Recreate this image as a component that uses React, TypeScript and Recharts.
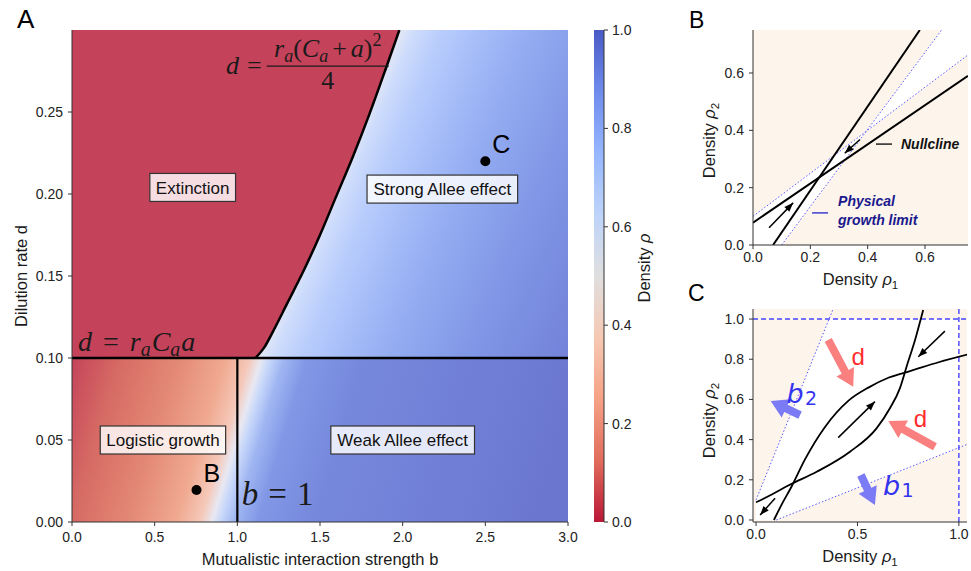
import React from "react";
import { ComposedChart, Area, Line, Scatter, XAxis, YAxis, CartesianGrid, Label } from "recharts";

const SANS = "'Liberation Sans', Arial, Helvetica, sans-serif";
const SERIF = "'Liberation Serif', 'Times New Roman', serif";
const INK = "#1a1a1a";
const AX = "#333";

// ---------- panel A: phase diagram ----------
const bTicks = [0, 0.5, 1, 1.5, 2, 2.5, 3];
const dTicks = [0, 0.05, 0.1, 0.15, 0.2, 0.25];
const bMax = 3;
const dMax = 0.3;
const dCrit = 0.1; // d = r_a C_a a
const bCrit = 1; // b = 1
// upper-right edge of the extinction region, d = r_a (C_a + a)^2 / 4
const boundaryB = [1.11, 1.16, 1.22, 1.3, 1.4, 1.5, 1.6, 1.7, 1.8, 1.9, 1.98];
const boundaryD = [0.1, 0.106, 0.117, 0.133, 0.153, 0.175, 0.199, 0.223, 0.249, 0.277, 0.3];
const pointNames = ["B", "C"];
const pointB = [0.753, 2.5];
const pointD = [0.0195, 0.22];
const regionNames = ["Extinction", "Strong Allee effect", "Logistic growth", "Weak Allee effect"];
const regionB = [0.73, 2.24, 0.55, 2.0];
const regionD = [0.204, 0.203, 0.05, 0.05];
const rhoTicks = [0, 0.2, 0.4, 0.6, 0.8, 1];

// ---------- panel B: nullclines at point B ----------
const rhoTicksB = [0, 0.2, 0.4, 0.6];
const rhoMaxB = 0.75;
const nullB1x = [0.07, 0.582];
const nullB1y = [0, 0.75];
const nullB2x = [0, 0.75];
const nullB2y = [0.078, 0.59];
const limB1x = [0.1, 0.658];
const limB1y = [0, 0.75];
const limB2x = [0, 0.75];
const limB2y = [0.1, 0.663];
const wedgeBx = [0, 0.1, 0.395, 0.658, 0.75];
const wedgeBlo = [0, 0, 0.396, 0.594, 0.663];
const wedgeBhi = [0.1, 0.175, 0.396, 0.75, 0.75];
const arrowsB = [
  [0.056, 0.06, 0.14, 0.147],
  [0.373, 0.368, 0.32, 0.32],
];

// ---------- panel C: nullclines at point C ----------
const rhoTicksCx = [0, 0.5, 1];
const rhoTicksCy = [0, 0.2, 0.4, 0.6, 0.8, 1];
const nullCx = [0, 0.08, 0.164, 0.299, 0.463, 0.594, 0.66, 0.709, 0.742, 0.785, 0.824];
const nullCy = [0.088, 0.128, 0.174, 0.24, 0.34, 0.456, 0.556, 0.655, 0.763, 0.9, 1.045];
const limC1x = [0.1, 1.04];
const limC1y = [0, 0.376];
const limC2x = [0, 0.38];
const limC2y = [0.1, 1.05];
const wedgeCx = [0, 0.1, 0.36, 1];
const wedgeClo = [0, 0, 0.104, 0.36];
const wedgeChi = [0.1, 0.35, 1, 1];
const capC = 1;
const arrowsC = [
  [0.931, 0.94, 0.8, 0.812],
  [0.405, 0.41, 0.586, 0.589],
  [0.094, 0.108, 0.02, 0.025],
];
const dilutionArrows = [
  [0.356, 0.896, 0.479, 0.663],
  [0.882, 0.365, 0.652, 0.493],
];
const mutualArrows = [
  [0.217, 0.522, 0.072, 0.592],
  [0.517, 0.224, 0.586, 0.075],
];
const dLabelX = [0.504, 0.811];
const dLabelY = [0.812, 0.506];
const bLabelSub = ["2", "1"];
const bLabelX = [0.192, 0.668];
const bLabelY = [0.632, 0.174];

const xy = (xs: number[], ys: number[]) => xs.map((x, i) => ({ x, y: ys[i] }));
const band = (xs: number[], lo: number[], hi: number[]) => xs.map((x, i) => ({ x, r: [lo[i], hi[i]] }));
const seg = (a: number[]) => [{ x: a[0], y: a[1] }, { x: a[2], y: a[3] }];

const measureCtx: { c: CanvasRenderingContext2D | null } = { c: null };
const textWidth = (t: string, font: string) => {
  if (!measureCtx.c) measureCtx.c = document.createElement("canvas").getContext("2d");
  if (!measureCtx.c) return t.length * 8;
  measureCtx.c.font = font;
  return measureCtx.c.measureText(t).width;
};

const thinArrowDot = (color: string) => (p: any) => {
  const pts = p.points;
  if (!pts || pts.length < 2 || p.index !== pts.length - 1) return <g key={p.index} />;
  const a = pts[0], b = pts[1];
  const L = Math.hypot(b.x - a.x, b.y - a.y) || 1;
  const ux = (b.x - a.x) / L, uy = (b.y - a.y) / L;
  const len = 9, w = 3.5;
  const bx = b.x - ux * len, by = b.y - uy * len;
  return (
    <polygon key={p.index} fill={color}
      points={`${b.x},${b.y} ${bx - uy * w},${by + ux * w} ${bx + uy * w},${by - ux * w}`} />
  );
};

const fatArrowDot = (color: string) => (p: any) => {
  const pts = p.points;
  if (!pts || pts.length < 2 || p.index !== 0) return <g key={p.index} />;
  const a = pts[0], b = pts[1];
  const L = Math.hypot(b.x - a.x, b.y - a.y) || 1;
  const ux = (b.x - a.x) / L, uy = (b.y - a.y) / L;
  const nx = -uy, ny = ux;
  const sw = 4, hw = 10, hl = 17;
  const bx = b.x - ux * hl, by = b.y - uy * hl;
  const poly = [
    [a.x + nx * sw, a.y + ny * sw], [bx + nx * sw, by + ny * sw], [bx + nx * hw, by + ny * hw],
    [b.x, b.y], [bx - nx * hw, by - ny * hw], [bx - nx * sw, by - ny * sw], [a.x - nx * sw, a.y - ny * sw],
  ].map((q) => q.join(",")).join(" ");
  return <polygon key={p.index} points={poly} fill={color} />;
};

const rho = (sub?: string) => (
  <>
    <tspan>Density </tspan>
    <tspan fontStyle="italic">ρ</tspan>
    {sub ? <tspan fontSize={11.5} dy={4}>{sub}</tspan> : null}
  </>
);

const titleV = (content: React.ReactNode, x: number, dy = 0) => (p: any) => {
  const vb = p.viewBox || { x: 0, y: 0, width: 0, height: 0 };
  const cy = vb.y + vb.height / 2 + dy;
  return (
    <text x={x} y={cy} transform={`rotate(-90 ${x} ${cy})`} textAnchor="middle"
      fontSize={16.5} fontFamily={SANS} fill={INK}>{content}</text>
  );
};
const titleH = (content: React.ReactNode, y: number) => (p: any) => {
  const vb = p.viewBox || { x: 0, y: 0, width: 0, height: 0 };
  return (
    <text x={vb.x + vb.width / 2} y={y} textAnchor="middle" fontSize={16.5} fontFamily={SANS} fill={INK}>
      {content}
    </text>
  );
};

const tickStyle = { fontSize: 14, fill: "#222", fontFamily: SANS };

const frame = (xd: number[], yd: number[]) => [
  <XAxis key="xt" xAxisId="top" orientation="top" type="number" domain={xd} height={0}
    tick={false} tickLine={false} axisLine={{ stroke: AX }} />,
  <YAxis key="yr" yAxisId="right" orientation="right" type="number" domain={yd} width={0}
    tick={false} tickLine={false} axisLine={{ stroke: AX }} />,
];

function PanelA() {
  const extinction = band([0, ...boundaryB], [dCrit, ...boundaryD], [dMax, ...boundaryB.map(() => dMax)]);
  const lower = band([0, bMax], [0, 0], [dCrit, dCrit]);
  const upper = band([0, bMax], [dCrit, dCrit], [dMax, dMax]);
  const points = pointNames.map((n, i) => ({ x: pointB[i], y: pointD[i], n }));
  const regions = regionNames.map((n, i) => ({ x: regionB[i], y: regionD[i], n }));

  const pointShape = (p: any) => (
    <g>
      <circle cx={p.cx} cy={p.cy} r={5} fill="#000" />
      <text x={p.cx + 7} y={p.cy - 8} fontSize={25} fontFamily={SANS} fill="#000">{p.payload.n}</text>
    </g>
  );
  const regionShape = (p: any) => {
    const w = textWidth(p.payload.n, `17px ${SANS}`) + 12;
    return (
      <g>
        <rect x={p.cx - w / 2} y={p.cy - 14} width={w} height={28} fill="#fff" fillOpacity={0.82}
          stroke={AX} strokeWidth={1.2} />
        <text x={p.cx} y={p.cy} dy="0.36em" textAnchor="middle" fontSize={17} fontFamily={SANS} fill="#111">
          {p.payload.n}
        </text>
      </g>
    );
  };
  // d = r_a (C_a + a)^2 / 4 , anchored at the fraction bar centre
  const fracShape = (p: any) => (
    <g fontFamily={SERIF} fill={INK}>
      <text x={p.cx - 66} y={p.cy + 8} fontSize={26} textAnchor="end">
        <tspan fontStyle="italic">d</tspan><tspan dx={8}>=</tspan>
      </text>
      <text x={p.cx} y={p.cy - 9} fontSize={26} textAnchor="middle">
        <tspan fontStyle="italic">r</tspan>
        <tspan fontStyle="italic" fontSize={18} dy={5}>a</tspan>
        <tspan dy={-5}>(</tspan>
        <tspan fontStyle="italic">C</tspan>
        <tspan fontStyle="italic" fontSize={18} dy={5}>a</tspan>
        <tspan dy={-5} dx={4}>+</tspan>
        <tspan fontStyle="italic" dx={4}>a</tspan>
        <tspan>)</tspan>
        <tspan fontSize={18} dy={-11}>2</tspan>
      </text>
      <line x1={p.cx - 61} x2={p.cx + 61} y1={p.cy} y2={p.cy} stroke={INK} strokeWidth={1.2} />
      <text x={p.cx} y={p.cy + 23} fontSize={26} textAnchor="middle">4</text>
    </g>
  );
  const critDShape = (p: any) => (
    <text x={p.cx} y={p.cy} fontFamily={SERIF} fontSize={28} fill={INK}>
      <tspan fontStyle="italic">d</tspan>
      <tspan dx={11}>=</tspan>
      <tspan fontStyle="italic" dx={11}>r</tspan>
      <tspan fontStyle="italic" fontSize={20} dy={5}>a</tspan>
      <tspan fontStyle="italic" dy={-5} dx={1}>C</tspan>
      <tspan fontStyle="italic" fontSize={20} dy={5}>a</tspan>
      <tspan fontStyle="italic" dy={-5} dx={1}>a</tspan>
    </text>
  );
  const critBShape = (p: any) => (
    <text x={p.cx} y={p.cy} fontFamily={SERIF} fontSize={33} fill={INK}>
      <tspan fontStyle="italic">b</tspan>
      <tspan dx={10}>=</tspan>
      <tspan dx={10}>1</tspan>
    </text>
  );

  return (
    <ComposedChart width={600} height={571} margin={{ top: 30, right: 32, bottom: 0, left: 0 }}>
      <defs>
        <linearGradient id="gLow" x1="-0.097" y1="0.962" x2="0.992" y2="1.071">
          <stop offset="0" stopColor="#c4445a" />
          <stop offset="0.089" stopColor="#d66a64" />
          <stop offset="0.2" stopColor="#e48a76" />
          <stop offset="0.283" stopColor="#f0aa91" />
          <stop offset="0.326" stopColor="#f5c8b9" />
          <stop offset="0.348" stopColor="#e8e8f2" />
          <stop offset="0.363" stopColor="#c8d8fa" />
          <stop offset="0.389" stopColor="#a0b6f2" />
          <stop offset="0.431" stopColor="#8298e6" />
          <stop offset="0.533" stopColor="#7688dc" />
          <stop offset="1" stopColor="#6a75cd" />
        </linearGradient>
        <linearGradient id="gHigh" x1="-0.2365" y1="0.825" x2="0.953" y2="1.165">
          <stop offset="0" stopColor="#c4445a" />
          <stop offset="0.464" stopColor="#f0beb4" />
          <stop offset="0.514" stopColor="#e4e8f5" />
          <stop offset="0.539" stopColor="#cddcfc" />
          <stop offset="0.581" stopColor="#b9cdfc" />
          <stop offset="0.647" stopColor="#a5bcf8" />
          <stop offset="0.731" stopColor="#91aaf0" />
          <stop offset="0.847" stopColor="#8096e6" />
          <stop offset="1" stopColor="#7382d8" />
        </linearGradient>
      </defs>
      <XAxis dataKey="x" type="number" domain={[0, bMax]} ticks={bTicks} allowDataOverflow
        tickFormatter={(v: number) => v.toFixed(1)} tick={tickStyle} tickSize={4} tickMargin={6}
        axisLine={{ stroke: AX }} tickLine={{ stroke: AX }} height={49}>
        <Label content={titleH("Mutualistic interaction strength b", 565)} />
      </XAxis>
      <YAxis type="number" domain={[0, dMax]} ticks={dTicks} allowDataOverflow
        tickFormatter={(v: number) => v.toFixed(2)} tick={tickStyle} tickSize={4} tickMargin={5}
        axisLine={{ stroke: AX }} tickLine={{ stroke: AX }} width={72}>
        <Label content={titleV("Dilution rate d", 27)} />
      </YAxis>
      {frame([0, bMax], [0, dMax])}
      <Area data={lower} dataKey="r" type="linear" stroke="none" fill="url(#gLow)" fillOpacity={1} isAnimationActive={false} />
      <Area data={upper} dataKey="r" type="linear" stroke="none" fill="url(#gHigh)" fillOpacity={1} isAnimationActive={false} />
      <Area data={extinction} dataKey="r" type="monotone" stroke="none" fill="#c5425b" fillOpacity={1} isAnimationActive={false} />
      <Line data={xy(boundaryB, boundaryD)} dataKey="y" type="monotone" stroke="#000" strokeWidth={2.5} dot={false} activeDot={false} isAnimationActive={false} />
      <Line data={xy([0, bMax], [dCrit, dCrit])} dataKey="y" stroke="#000" strokeWidth={2.5} dot={false} activeDot={false} isAnimationActive={false} />
      <Line data={xy([bCrit, bCrit], [0, dCrit])} dataKey="y" stroke="#000" strokeWidth={2.2} dot={false} activeDot={false} isAnimationActive={false} />
      <Scatter data={regions} dataKey="y" shape={regionShape} isAnimationActive={false} />
      <Scatter data={points} dataKey="y" shape={pointShape} isAnimationActive={false} />
      <Scatter data={[{ x: 1.547, y: 0.278 }]} dataKey="y" shape={fracShape} isAnimationActive={false} />
      <Scatter data={[{ x: 0.036, y: 0.1045 }]} dataKey="y" shape={critDShape} isAnimationActive={false} />
      <Scatter data={[{ x: 1.027, y: 0.0104 }]} dataKey="y" shape={critBShape} isAnimationActive={false} />
    </ComposedChart>
  );
}

function ColorBar() {
  const bar = band([0, 1], [0, 0], [1, 1]);
  return (
    <ComposedChart width={140} height={571} margin={{ top: 30, right: 0, bottom: 49, left: 34 }}>
      <defs>
        <linearGradient id="gBar" x1="0" y1="0" x2="0" y2="1">
          <stop offset="0" stopColor="#3b4cc0" />
          <stop offset="0.125" stopColor="#6282ea" />
          <stop offset="0.25" stopColor="#8db0fe" />
          <stop offset="0.375" stopColor="#b8d0f9" />
          <stop offset="0.5" stopColor="#dddcdc" />
          <stop offset="0.625" stopColor="#f5c4ac" />
          <stop offset="0.75" stopColor="#f49a7b" />
          <stop offset="0.875" stopColor="#de604d" />
          <stop offset="1" stopColor="#b40426" />
        </linearGradient>
      </defs>
      <XAxis dataKey="x" type="number" domain={[0, 1]} height={0} tick={false} tickLine={false} axisLine={{ stroke: AX }} />
      <YAxis yAxisId="l" type="number" domain={[0, 1]} width={0} tick={false} tickLine={false} axisLine={{ stroke: AX }} />
      <XAxis xAxisId="top" orientation="top" type="number" domain={[0, 1]} height={0} tick={false} tickLine={false} axisLine={{ stroke: AX }} />
      <YAxis yAxisId="r" orientation="right" type="number" domain={[0, 1]} ticks={rhoTicks} width={96}
        tickFormatter={(v: number) => v.toFixed(1)} tick={tickStyle} tickSize={4} tickMargin={4}
        axisLine={{ stroke: AX }} tickLine={{ stroke: AX }}>
        <Label content={titleV(rho(), 90, -8)} />
      </YAxis>
      <Area yAxisId="r" data={bar} dataKey="r" type="linear" stroke="none" fill="url(#gBar)" fillOpacity={0.92} isAnimationActive={false} />
    </ComposedChart>
  );
}

function PanelB() {
  const legendNull = (p: any) => (
    <g>
      <line x1={p.cx} x2={p.cx + 16} y1={p.cy} y2={p.cy} stroke="#222" strokeWidth={1.5} />
      <text x={p.cx + 25} y={p.cy + 5} fontSize={14} fontWeight="bold" fontStyle="italic" fontFamily={SANS} fill="#111">
        Nullcline
      </text>
    </g>
  );
  const legendLimit = (p: any) => (
    <g fontSize={14} fontWeight="bold" fontStyle="italic" fontFamily={SANS} fill="#19198c">
      <line x1={p.cx} x2={p.cx + 16} y1={p.cy} y2={p.cy} stroke="#3c3cd0" strokeWidth={1.5} />
      <text x={p.cx + 26} y={p.cy - 7}>Physical</text>
      <text x={p.cx + 26} y={p.cy + 12}>growth limit</text>
    </g>
  );
  return (
    <ComposedChart width={281} height={300} margin={{ top: 30, right: 3, bottom: 30, left: 0 }}>
      <CartesianGrid fill="#fdf4ec" horizontal={false} vertical={false} />
      <XAxis dataKey="x" type="number" domain={[0, rhoMaxB]} ticks={rhoTicksB} allowDataOverflow
        tickFormatter={(v: number) => v.toFixed(1)} tick={tickStyle} tickSize={4} tickMargin={3}
        axisLine={{ stroke: AX }} tickLine={{ stroke: AX }} height={25}>
        <Label content={titleH(rho("1"), 285)} />
      </XAxis>
      <YAxis type="number" domain={[0, rhoMaxB]} ticks={rhoTicksB} allowDataOverflow
        tickFormatter={(v: number) => v.toFixed(1)} tick={tickStyle} tickSize={4} tickMargin={5}
        axisLine={{ stroke: AX }} tickLine={{ stroke: AX }} width={63}>
        <Label content={titleV(rho("2"), 25, 3)} />
      </YAxis>
      {frame([0, rhoMaxB], [0, rhoMaxB])}
      <Area data={band(wedgeBx, wedgeBlo, wedgeBhi)} dataKey="r" type="linear" stroke="none" fill="#ffffff" fillOpacity={1} isAnimationActive={false} />
      <Line data={xy(limB1x, limB1y)} dataKey="y" stroke="#5a5aff" strokeWidth={1} strokeDasharray="1.5 2" dot={false} activeDot={false} isAnimationActive={false} />
      <Line data={xy(limB2x, limB2y)} dataKey="y" stroke="#5a5aff" strokeWidth={1} strokeDasharray="1.5 2" dot={false} activeDot={false} isAnimationActive={false} />
      <Line data={xy(nullB1x, nullB1y)} dataKey="y" stroke="#000" strokeWidth={2} dot={false} activeDot={false} isAnimationActive={false} />
      <Line data={xy(nullB2x, nullB2y)} dataKey="y" stroke="#000" strokeWidth={2} dot={false} activeDot={false} isAnimationActive={false} />
      {arrowsB.map((a, i) => (
        <Line key={`ab${i}`} data={seg(a)} dataKey="y" stroke="#000" strokeWidth={1.5} dot={thinArrowDot("#000")} activeDot={false} isAnimationActive={false} />
      ))}
      <Scatter data={[{ x: 0.429, y: 0.352 }]} dataKey="y" shape={legendNull} isAnimationActive={false} />
      <Scatter data={[{ x: 0.206, y: 0.112 }]} dataKey="y" shape={legendLimit} isAnimationActive={false} />
    </ComposedChart>
  );
}

function PanelC() {
  const xd = [-0.015, 1.04];
  const yd = [-0.01, 1.05];
  const dLabels = xy(dLabelX, dLabelY);
  const bLabels = bLabelSub.map((s, i) => ({ x: bLabelX[i], y: bLabelY[i], s }));
  const dShape = (p: any) => (
    <text x={p.cx} y={p.cy} dy="0.36em" textAnchor="middle" fontSize={24} fontFamily={SANS} fill="#ff2d2d">d</text>
  );
  const bShape = (p: any) => (
    <g fontFamily="'DejaVu Sans', sans-serif" fill="#3434ee">
      <text x={p.cx} y={p.cy} dy="0.36em" textAnchor="middle" fontSize={27} fontStyle="oblique">b</text>
      <text x={p.cx + 16} y={p.cy + 5} dy="0.36em" textAnchor="middle" fontSize={19}>{p.payload.s}</text>
    </g>
  );
  return (
    <ComposedChart width={281} height={281} margin={{ top: 19, right: 4, bottom: 24, left: 0 }}>
      <CartesianGrid fill="#fdf4ec" horizontal={false} vertical={false} />
      <XAxis dataKey="x" type="number" domain={xd} ticks={rhoTicksCx} allowDataOverflow
        tickFormatter={(v: number) => v.toFixed(1)} tick={tickStyle} tickSize={4} tickMargin={3}
        axisLine={{ stroke: AX }} tickLine={{ stroke: AX }} height={25}>
        <Label content={titleH(rho("1"), 272)} />
      </XAxis>
      <YAxis type="number" domain={yd} ticks={rhoTicksCy} allowDataOverflow
        tickFormatter={(v: number) => v.toFixed(1)} tick={tickStyle} tickSize={4} tickMargin={5}
        axisLine={{ stroke: AX }} tickLine={{ stroke: AX }} width={63}>
        <Label content={titleV(rho("2"), 25, 5)} />
      </YAxis>
      {frame(xd, yd)}
      <Area data={band(wedgeCx, wedgeClo, wedgeChi)} dataKey="r" type="linear" stroke="none" fill="#ffffff" fillOpacity={1} isAnimationActive={false} />
      <Line data={xy(limC1x, limC1y)} dataKey="y" stroke="#5a5aff" strokeWidth={1} strokeDasharray="1.5 2" dot={false} activeDot={false} isAnimationActive={false} />
      <Line data={xy(limC2x, limC2y)} dataKey="y" stroke="#5a5aff" strokeWidth={1} strokeDasharray="1.5 2" dot={false} activeDot={false} isAnimationActive={false} />
      <Line data={xy([capC, capC], yd)} dataKey="y" stroke="#4646ff" strokeWidth={1.4} strokeDasharray="5 3" dot={false} activeDot={false} isAnimationActive={false} />
      <Line data={xy(xd, [capC, capC])} dataKey="y" stroke="#4646ff" strokeWidth={1.4} strokeDasharray="5 3" dot={false} activeDot={false} isAnimationActive={false} />
      <Line data={xy(nullCx, nullCy)} dataKey="y" type="monotone" stroke="#000" strokeWidth={1.8} dot={false} activeDot={false} isAnimationActive={false} />
      <Line data={xy(nullCy, nullCx)} dataKey="y" type="monotone" stroke="#000" strokeWidth={1.8} dot={false} activeDot={false} isAnimationActive={false} />
      {arrowsC.map((a, i) => (
        <Line key={`ac${i}`} data={seg(a)} dataKey="y" stroke="#000" strokeWidth={1.5} dot={thinArrowDot("#000")} activeDot={false} isAnimationActive={false} />
      ))}
      {dilutionArrows.map((a, i) => (
        <Line key={`ad${i}`} data={seg(a)} dataKey="y" stroke="none" dot={fatArrowDot("#fa8080")} activeDot={false} isAnimationActive={false} />
      ))}
      {mutualArrows.map((a, i) => (
        <Line key={`am${i}`} data={seg(a)} dataKey="y" stroke="none" dot={fatArrowDot("#7b7bf5")} activeDot={false} isAnimationActive={false} />
      ))}
      <Scatter data={dLabels} dataKey="y" shape={dShape} isAnimationActive={false} />
      <Scatter data={bLabels} dataKey="y" shape={bShape} isAnimationActive={false} />
    </ComposedChart>
  );
}

export default function App() {
  return (
    <div style={{ position: "absolute", left: 0, top: 0, width: 971, height: 571, background: "#fff", fontFamily: SANS }}>
      <div style={{ position: "absolute", left: 0, top: 0 }}><PanelA /></div>
      <div style={{ position: "absolute", left: 560, top: 0 }}><ColorBar /></div>
      <div style={{ position: "absolute", left: 690, top: 0 }}><PanelB /></div>
      <div style={{ position: "absolute", left: 690, top: 290 }}><PanelC /></div>
      <svg width={971} height={571} style={{ position: "absolute", left: 0, top: 0, pointerEvents: "none" }}>
        <g fontFamily={SANS} fill="#000">
          <text x={17} y={28} fontSize={26}>A</text>
          <text x={689} y={28} fontSize={23}>B</text>
          <text x={688} y={301} fontSize={23}>C</text>
        </g>
      </svg>
    </div>
  );
}
